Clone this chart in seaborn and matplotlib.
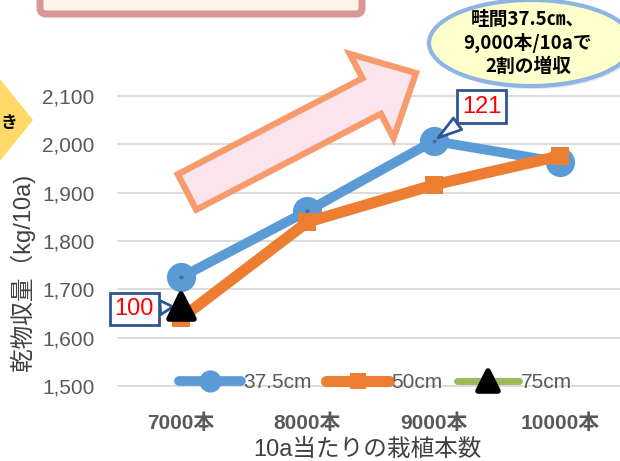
import matplotlib
matplotlib.use('Agg')
import matplotlib.pyplot as plt
import seaborn as sns
import pandas as pd
import numpy as np
from matplotlib.patches import Polygon, Ellipse, FancyBboxPatch, FancyArrow
from matplotlib.markers import MarkerStyle
from matplotlib.transforms import IdentityTransform

# ---------------- data ----------------
categories = ['7000本', '8000本', '9000本', '10000本']
series_names = ['37.5cm', '50cm', '75cm']
yield_375 = [1725, 1862, 2007, 1963]
yield_50 = [1640, 1839, 1916, 1976]
yield_75 = [1665, np.nan, np.nan, np.nan]
y_ticks = [1500, 1600, 1700, 1800, 1900, 2000, 2100]
index_labels = ['100', '121']
bubble_text = '畦間37.5㎝、\n9,000本/10aで\n2割の増収'
x_label = '10a当たりの栽植本数'
y_label = '乾物収量（kg/10a)'
side_text = 'き'

colors = ['#5B9BD5', '#ED7D31', '#9BBB59']

sns.set_theme(style='white')
plt.rcParams['font.family'] = ['Liberation Sans', 'Noto Sans CJK JP', 'DejaVu Sans']

W, H = 620, 461
fig = plt.figure(figsize=(6.2, 4.61), dpi=100)
fig.patch.set_facecolor('white')
ax = fig.add_axes([118 / W, (H - 386) / H, 505 / W, 290 / H])

df = pd.DataFrame({'pos': np.arange(len(categories)),
                   series_names[0]: yield_375,
                   series_names[1]: yield_50,
                   series_names[2]: yield_75})

sns.lineplot(data=df, x='pos', y=series_names[0], ax=ax, color=colors[0],
             linewidth=7, marker='o', markersize=21, markeredgewidth=0,
             label=series_names[0], zorder=3, clip_on=False)
# small dark centre dots of the circle markers
sns.scatterplot(data=df, x='pos', y=series_names[0], ax=ax, color='#41719C',
                s=9, linewidth=0, zorder=3.5, legend=False, clip_on=False)
sns.lineplot(data=df, x='pos', y=series_names[1], ax=ax, color=colors[1],
             linewidth=8, marker='s', markersize=13, markeredgewidth=0,
             label=series_names[1], zorder=4, clip_on=False)
tri_marker = MarkerStyle('^', joinstyle='round')
sns.lineplot(data=df, x='pos', y=series_names[2], ax=ax, color=colors[2],
             linewidth=5, marker=tri_marker, markersize=18, markerfacecolor='black',
             markeredgecolor='black', markeredgewidth=4, label=series_names[2],
             zorder=6, clip_on=False)

ax.set_xlim(-0.5, len(categories) - 0.5)
ax.set_ylim(y_ticks[0], y_ticks[-1])
ax.set_xticks(np.arange(len(categories)))
ax.set_xticklabels(categories)
ax.set_yticks(y_ticks)
ax.set_yticklabels([f'{v:,}' for v in y_ticks])
ax.set_xlabel('')
ax.set_ylabel('')
for s in ax.spines.values():
    s.set_visible(False)
ax.yaxis.grid(True, color='#D9D9D9', linewidth=1.3)
for gl in ax.get_ygridlines():
    gl.set_clip_on(False)
ax.set_axisbelow(True)
ax.tick_params(axis='y', length=0, pad=17, labelsize=15, labelcolor='#595959')
ax.tick_params(axis='x', length=0, pad=20, labelsize=15, labelcolor='#595959')
for lbl in ax.get_xticklabels():
    lbl.set_fontweight('bold')

leg = ax.legend(loc='center', bbox_to_anchor=(0.51, 0.012), ncol=3, frameon=False,
                handlelength=3.0, handletextpad=0.1, columnspacing=0.7,
                fontsize=15, labelcolor='#595959')
sizes = [16, 11, 14]
for h, ms in zip(leg.legend_handles, sizes):
    h.set_markersize(ms)

# callouts
edge = '#2F5597'
ax.annotate(index_labels[0], xy=(0, yield_75[0]), xytext=(-0.37, 1659),
            ha='center', va='center', fontsize=17, color='red',
            bbox=dict(boxstyle='square,pad=0.22', fc='white', ec=edge, lw=2),
            arrowprops=dict(arrowstyle='wedge,tail_width=0.6', fc='white', ec=edge,
                            lw=2, shrinkA=0, shrinkB=6),
            zorder=5, annotation_clip=False)
ax.annotate(index_labels[1], xy=(2, yield_375[2]), xytext=(2.38, 2078),
            ha='center', va='center', fontsize=17, color='red',
            bbox=dict(boxstyle='square,pad=0.22', fc='white', ec=edge, lw=2),
            arrowprops=dict(arrowstyle='wedge,tail_width=0.6', fc='white', ec=edge,
                            lw=2, shrinkA=0, shrinkB=4),
            zorder=7, annotation_clip=False)

ident = IdentityTransform()

def P(x, y):
    return (x, H - y)

# big arrow
tx, ty = P(187, 192)
hx, hy = P(416, 73)
arr = FancyArrow(tx, ty, hx - tx, hy - ty, width=40, head_width=95, head_length=50,
                 length_includes_head=True, fc='#FCE4EC', ec='#F79A6C', lw=4.5,
                 transform=ident, zorder=2)
fig.add_artist(arr)

# speech ellipse
sh = Ellipse(P(533, 46), 204, 86, fc='#C9D8EE', ec='none', alpha=0.6,
             transform=ident, zorder=2)
fig.add_artist(sh)
el = Ellipse(P(531, 43), 204, 86, fc='#FFFFCC', ec='#8EB4E3', lw=3,
             transform=ident, zorder=3)
fig.add_artist(el)
fig.text(528 / W, 1 - 43 / H, bubble_text, ha='center', va='center', fontsize=13.5,
         fontweight='bold', color='black', linespacing=1.25,
         family=['Noto Sans CJK JP', 'DejaVu Sans'], zorder=4)

# top box (cut off)
box = FancyBboxPatch(P(40, 14), 322, 40, boxstyle='round,pad=0,rounding_size=6',
                     fc='#FDF2EC', ec='#D99694', lw=5, transform=ident, zorder=2)
fig.add_artist(box)

# left yellow shape
tri = Polygon([P(-5, 73), P(33, 120), P(-5, 167)], closed=True, fc='#FFD966',
              ec='none', transform=ident, zorder=2)
fig.add_artist(tri)
fig.text(1 / W, 1 - 123 / H, side_text, ha='left', va='center', fontsize=12,
         fontweight='bold', color='black', family=['Noto Sans CJK JP'], zorder=3)

# axis labels
fig.text(367 / W, 1 - 450 / H, x_label, ha='center', va='center', fontsize=17,
         color='#404040')
fig.text(22 / W, 1 - 272 / H, y_label, ha='center', va='center', fontsize=17,
         color='#404040', rotation=90)

fig.savefig('out.png', dpi=100, facecolor='white')
